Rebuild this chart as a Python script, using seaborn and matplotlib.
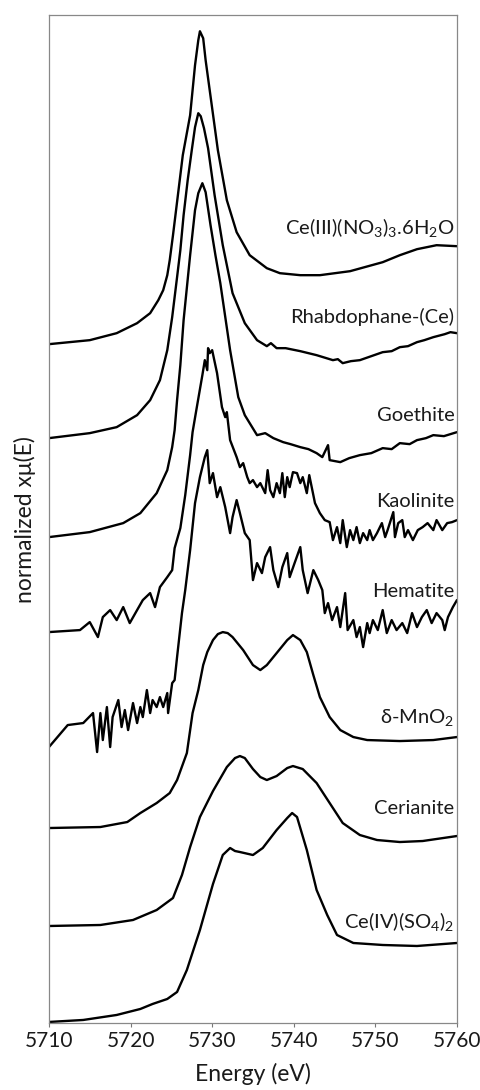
import numpy as np
import pandas as pd
import seaborn as sns
import matplotlib.pyplot as plt

# stacked Ce L3-edge XANES spectra (energy in eV, offset normalized absorbance)
names = ["Ce(III)(NO$_3$)$_3$.6H$_2$O", "Rhabdophane-(Ce)", "Goethite", "Kaolinite",
         "Hematite", "δ-MnO$_2$", "Cerianite", "Ce(IV)(SO$_4$)$_2$"]
label_y = [7.96, 7.06, 6.08, 5.22, 4.32, 3.06, 2.15, 1.01]

ce3_e = [5710.0, 5715.0, 5718.3, 5720.8, 5722.4, 5723.4, 5724.0, 5724.5, 5724.8, 5725.2, 5725.8,
         5726.4, 5727.3, 5727.9, 5728.3, 5728.5, 5728.9, 5729.2, 5729.7, 5730.7, 5731.8, 5733.0,
         5734.6, 5736.7, 5738.3, 5740.8, 5743.2, 5746.9, 5750.9, 5753.0, 5755.1, 5757.5, 5760.0]
ce3_y = [6.79, 6.83, 6.90, 7.00, 7.10, 7.23, 7.33, 7.48, 7.63, 7.88, 8.28,
         8.68, 9.08, 9.58, 9.83, 9.92, 9.85, 9.63, 9.33, 8.73, 8.23, 7.91,
         7.68, 7.55, 7.50, 7.48, 7.48, 7.52, 7.61, 7.68, 7.74, 7.78, 7.77]

rhab_e = [5710.0, 5715.0, 5718.3, 5720.8, 5722.4, 5723.6, 5724.5, 5725.1, 5725.7, 5726.1, 5726.5,
          5727.0, 5727.5, 5727.9, 5728.3, 5728.6, 5729.0, 5729.5, 5730.3, 5731.3, 5732.5, 5734.0,
          5735.5, 5736.7, 5737.2, 5737.9, 5739.0, 5740.8, 5741.8, 5742.8, 5743.6, 5744.8, 5745.4,
          5746.0, 5747.0, 5748.1, 5749.5, 5750.9, 5752.0, 5753.0, 5754.0, 5755.1, 5756.0, 5757.1,
          5758.5, 5759.2, 5760.0]
rhab_y = [5.85, 5.90, 5.96, 6.08, 6.23, 6.43, 6.73, 7.06, 7.46, 7.73, 8.08,
          8.43, 8.73, 8.96, 9.10, 9.07, 8.95, 8.75, 8.28, 7.78, 7.30, 7.00,
          6.83, 6.77, 6.80, 6.75, 6.75, 6.72, 6.70, 6.68, 6.66, 6.63, 6.64,
          6.60, 6.62, 6.63, 6.67, 6.71, 6.72, 6.76, 6.77, 6.81, 6.83, 6.86,
          6.89, 6.91, 6.90]

goe_e = [5710.0, 5715.0, 5719.1, 5721.2, 5723.2, 5724.5, 5725.1, 5725.4, 5725.7, 5726.1, 5726.5,
         5727.3, 5727.9, 5728.3, 5728.8, 5729.2, 5729.8, 5730.4, 5731.0, 5732.2, 5733.2, 5734.0,
         5735.5, 5736.5, 5737.5, 5738.7, 5739.6, 5740.8, 5741.8, 5742.8, 5743.5, 5744.2, 5744.4,
         5745.7, 5746.8, 5748.1, 5749.5, 5750.9, 5752.0, 5753.0, 5754.2, 5755.1, 5756.2, 5757.1,
         5758.4, 5760.0]
goe_y = [4.86, 4.91, 5.00, 5.10, 5.30, 5.53, 5.76, 5.93, 6.23, 6.58, 7.03,
         7.68, 8.13, 8.30, 8.40, 8.31, 7.98, 7.68, 7.40, 6.73, 6.26, 6.08,
         5.88, 5.90, 5.85, 5.81, 5.79, 5.76, 5.74, 5.70, 5.66, 5.78, 5.63,
         5.61, 5.65, 5.68, 5.70, 5.75, 5.74, 5.80, 5.79, 5.83, 5.85, 5.88,
         5.87, 5.91]

kao_e = [5710.0, 5713.8, 5715.0, 5716.0, 5716.6, 5717.5, 5718.3, 5719.1, 5719.9, 5720.8, 5721.5,
         5722.4, 5723.0, 5723.6, 5724.5, 5725.1, 5725.4, 5726.1, 5726.7, 5727.3, 5727.6, 5728.1,
         5728.8, 5729.1, 5729.4, 5729.5, 5729.7, 5730.0, 5730.6, 5731.2, 5731.6, 5731.8, 5732.2,
         5733.0, 5733.4, 5733.8, 5734.3, 5734.6, 5735.0, 5735.5, 5735.9, 5736.5, 5736.8, 5737.1,
         5737.5, 5737.9, 5738.3, 5738.6, 5738.9, 5739.2, 5739.5, 5739.9, 5740.4, 5740.8, 5741.1,
         5741.6, 5741.9, 5742.2, 5742.6, 5743.2, 5743.8, 5744.4, 5744.8, 5745.3, 5745.7, 5746.0,
         5746.5, 5746.9, 5747.3, 5747.7, 5748.1, 5748.5, 5749.0, 5749.3, 5749.7, 5750.2, 5750.8,
         5751.2, 5751.5, 5752.2, 5752.4, 5752.8, 5753.3, 5753.6, 5754.0, 5754.6, 5755.2, 5755.8,
         5756.4, 5757.1, 5757.5, 5758.2, 5758.8, 5759.4, 5760.0]
kao_y = [3.91, 3.93, 4.01, 3.86, 4.06, 4.13, 4.03, 4.16, 4.00, 4.13, 4.23,
         4.30, 4.16, 4.36, 4.46, 4.53, 4.75, 4.95, 5.28, 5.68, 5.91, 6.15,
         6.48, 6.63, 6.53, 6.75, 6.70, 6.73, 6.50, 6.16, 6.06, 6.11, 5.83,
         5.66, 5.56, 5.60, 5.46, 5.40, 5.43, 5.36, 5.40, 5.30, 5.53, 5.33,
         5.26, 5.40, 5.30, 5.50, 5.26, 5.46, 5.36, 5.51, 5.50, 5.40, 5.46,
         5.30, 5.48, 5.36, 5.20, 5.10, 5.03, 5.01, 4.83, 4.96, 4.80, 5.03,
         4.76, 4.93, 4.83, 4.96, 4.80, 4.90, 4.83, 4.93, 4.83, 4.90, 5.00,
         4.86, 4.93, 5.11, 4.86, 5.00, 5.03, 4.86, 4.93, 4.83, 4.93, 4.96,
         5.00, 4.93, 5.03, 4.93, 5.00, 5.01, 5.03]

hem_e = [5710.0, 5712.3, 5714.2, 5715.4, 5715.9, 5716.3, 5716.6, 5717.1, 5717.5, 5717.8, 5718.5,
         5718.9, 5719.3, 5719.7, 5720.3, 5720.8, 5721.2, 5721.5, 5722.0, 5722.4, 5722.7, 5723.2,
         5723.6, 5724.0, 5724.5, 5724.6, 5725.1, 5725.4, 5725.7, 5726.3, 5726.7, 5727.3, 5727.9,
         5728.5, 5729.1, 5729.4, 5729.7, 5730.1, 5730.6, 5731.0, 5731.6, 5732.2, 5732.5, 5733.0,
         5733.4, 5734.0, 5734.6, 5735.0, 5735.5, 5736.1, 5736.5, 5737.1, 5737.5, 5738.1, 5738.6,
         5739.2, 5739.5, 5740.1, 5740.8, 5741.1, 5741.7, 5742.4, 5743.0, 5743.5, 5743.8, 5744.2,
         5744.7, 5745.3, 5745.7, 5746.3, 5746.6, 5747.3, 5747.7, 5748.1, 5748.5, 5749.0, 5749.3,
         5749.7, 5750.3, 5750.9, 5751.4, 5752.0, 5752.6, 5753.3, 5753.9, 5754.5, 5755.1, 5755.7,
         5756.3, 5756.9, 5757.5, 5758.2, 5758.5, 5758.9, 5759.5, 5760.0]
hem_y = [2.76, 2.98, 3.00, 3.10, 2.71, 3.10, 2.83, 3.16, 2.76, 3.06, 3.23,
         2.96, 3.13, 2.93, 3.20, 3.00, 3.16, 3.06, 3.33, 3.10, 3.23, 3.16,
         3.26, 3.16, 3.30, 3.10, 3.40, 3.43, 3.66, 4.10, 4.33, 4.73, 5.20,
         5.46, 5.66, 5.73, 5.40, 5.50, 5.26, 5.36, 5.16, 4.90, 5.06, 5.23,
         5.10, 4.90, 4.83, 4.43, 4.60, 4.50, 4.66, 4.76, 4.53, 4.36, 4.56,
         4.70, 4.46, 4.60, 4.76, 4.53, 4.30, 4.53, 4.43, 4.33, 4.10, 4.20,
         4.03, 4.16, 3.96, 4.30, 3.93, 4.03, 3.86, 3.96, 3.76, 4.00, 3.90,
         4.03, 3.93, 4.13, 3.90, 4.03, 3.93, 4.00, 3.90, 4.10, 3.96, 4.06,
         4.13, 4.00, 4.10, 4.03, 3.93, 4.06, 4.16, 4.23]

mno2_e = [5710.0, 5716.3, 5719.6, 5721.2, 5723.2, 5724.8, 5725.7, 5726.9, 5727.6, 5728.3, 5728.9,
          5729.4, 5730.1, 5730.7, 5731.3, 5731.9, 5732.5, 5733.8, 5735.0, 5735.9, 5736.7, 5737.9,
          5739.2, 5739.9, 5740.8, 5741.6, 5742.4, 5743.2, 5744.4, 5745.7, 5747.3, 5749.0, 5753.0,
          5757.1, 5760.0]
mno2_y = [1.95, 1.96, 2.01, 2.10, 2.20, 2.30, 2.43, 2.70, 3.10, 3.33, 3.58,
          3.71, 3.83, 3.89, 3.91, 3.90, 3.86, 3.73, 3.58, 3.53, 3.58, 3.70,
          3.83, 3.88, 3.83, 3.71, 3.48, 3.26, 3.06, 2.93, 2.86, 2.83, 2.82,
          2.83, 2.86]

cer_e = [5710.0, 5716.3, 5720.3, 5723.2, 5725.2, 5726.3, 5727.3, 5728.5, 5730.1, 5731.8, 5732.8,
         5733.4, 5734.0, 5735.0, 5735.9, 5736.7, 5737.9, 5739.2, 5739.9, 5741.1, 5742.8, 5744.4,
         5746.0, 5748.1, 5750.2, 5753.0, 5755.8, 5760.0]
cer_y = [0.97, 0.98, 1.03, 1.13, 1.25, 1.48, 1.76, 2.06, 2.32, 2.56, 2.65,
         2.67, 2.65, 2.54, 2.46, 2.43, 2.47, 2.55, 2.57, 2.54, 2.40, 2.20,
         2.00, 1.88, 1.83, 1.81, 1.82, 1.87]

ce4_e = [5710.0, 5714.2, 5718.3, 5721.2, 5722.7, 5724.5, 5725.7, 5726.9, 5728.5, 5730.1, 5731.3,
         5732.2, 5732.8, 5733.4, 5735.0, 5736.2, 5737.9, 5739.2, 5739.8, 5740.4, 5741.6, 5742.8,
         5744.1, 5745.3, 5747.3, 5750.9, 5755.1, 5760.0]
ce4_y = [0.01, 0.03, 0.08, 0.14, 0.19, 0.24, 0.31, 0.53, 0.93, 1.39, 1.68,
         1.75, 1.72, 1.71, 1.68, 1.75, 1.93, 2.05, 2.10, 2.06, 1.73, 1.33,
         1.08, 0.88, 0.80, 0.78, 0.77, 0.80]

spectra = [(ce3_e, ce3_y), (rhab_e, rhab_y), (goe_e, goe_y), (kao_e, kao_y),
           (hem_e, hem_y), (mno2_e, mno2_y), (cer_e, cer_y), (ce4_e, ce4_y)]

sns.set_style("white")
plt.rcParams['font.family'] = ['Lato', 'DejaVu Sans']
plt.rcParams['mathtext.fontset'] = 'custom'
plt.rcParams['mathtext.rm'] = 'Lato'
plt.rcParams['mathtext.it'] = 'Lato'
plt.rcParams['mathtext.default'] = 'rm'

fig = plt.figure(figsize=(4.8, 10.9), dpi=100)
ax = fig.add_axes([0.102, 0.0615, 0.85, 0.9245])

for name, (e, y) in zip(names, spectra):
    sns.lineplot(x=e, y=y, ax=ax, color="black", linewidth=1.7, sort=False, estimator=None)

for name, ly in zip(names, label_y):
    ax.text(5759.7, ly, name, ha="right", va="center", fontsize=14.5, color="#1a1a1a")

ax.set_xlim(5710, 5760)
ax.set_ylim(0, 10.08)
ax.set_xticks([5710, 5720, 5730, 5740, 5750, 5760])
ax.set_yticks([])
ax.tick_params(axis="x", direction="out", length=3, width=0.8, color="#777777",
               labelsize=15, pad=3, bottom=True, labelcolor="#1a1a1a")
for s in ax.spines.values():
    s.set_color("#888888")
    s.set_linewidth(0.9)
ax.set_xlabel("Energy (eV)", fontsize=16.5, labelpad=8, color="#1a1a1a")
ax.set_ylabel("normalized xμ(E)", fontsize=16.5, labelpad=9, color="#1a1a1a")

fig.savefig("out.png", dpi=100)
